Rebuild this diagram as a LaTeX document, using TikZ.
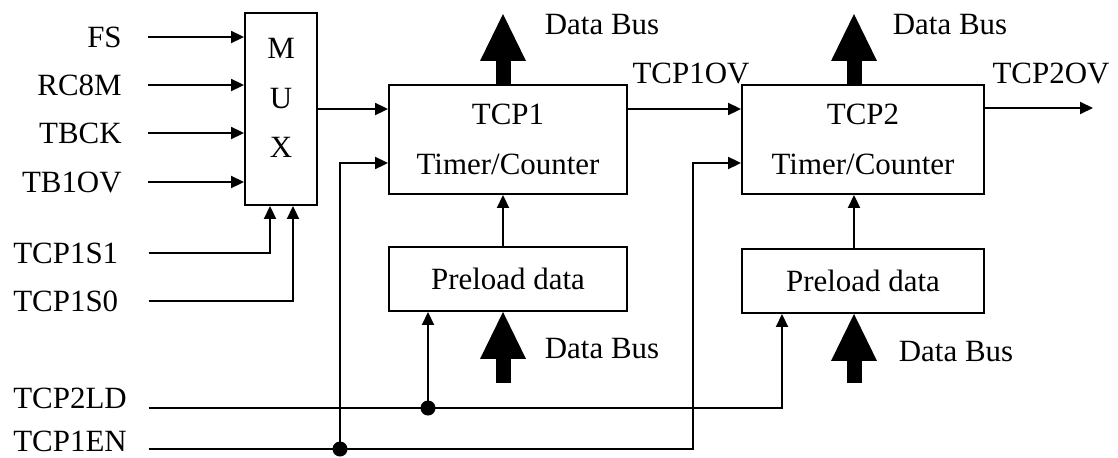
\documentclass[tikz,border=0pt]{standalone}
\usepackage{fontspec}
\setmainfont{Liberation Serif}
\usetikzlibrary{arrows.meta,calc,positioning}
\tikzset{%
	block/.style  = {draw, rectangle, line width=1.1pt, minimum height=2.18cm, text centered, align=center},
	arrow/.style  = {line width=1.1pt, -{Triangle[length=2.6mm, width=2.4mm]}},
	bus/.style    = {line width=3mm, -{Triangle[length=9.4mm, width=9.2mm, line width=0pt]}},
	sigin/.style  = {anchor=east, inner xsep=0.52cm},
	ctrlin/.style = {anchor=west, inner xsep=0pt, inner ysep=1pt, text width=2.7cm, align=left},
}

\begin{document}
\begin{tikzpicture}[x=0.02cm, y=-0.02cm, font=\fontsize{17.6}{21}\selectfont]
	\useasboundingbox (0,0) rectangle (1118,457);
	
	% blocks
	\node[block, minimum width=1.44cm, minimum height=3.84cm] (mux) at (281,109) {};
	\node[align=center] (muxtxt) at (281,98) {M\\[7pt]U\\[7pt]X};
	\node[block, minimum width=4.76cm] (tcp1) at (508,139.5) {TCP1\\[7pt]Timer/Counter};
	\node[block, minimum width=4.84cm] (tcp2) at (863,139.5) {TCP2\\[7pt]Timer/Counter};
	\node[block, minimum width=4.76cm, minimum height=1.28cm] (pre1) at (508,279) {Preload data};
	\node[block, minimum width=4.84cm, minimum height=1.28cm] (pre2) at (863,281) {Preload data};
	
	% input signals
	\node[sigin] (fs) at (148,37) {FS};
	\node[sigin] (rc) at (148,85) {RC8M};
	\node[sigin] (tbck) at (148,133) {TBCK};
	\node[sigin] (tbov) at (148,182) {TB1OV};
	\node[ctrlin] (sone) at (13,253) {TCP1S1};
	\node[ctrlin] (szero) at (13,301) {TCP1S0};
	\node[ctrlin] (ld) at (13,398) {TCP2LD};
	\node[ctrlin] (en) at (13,441) {TCP1EN};
	
	\draw[arrow] (fs.east) -- (fs.east -| mux.west);
	\draw[arrow] (rc.east) -- (rc.east -| mux.west);
	\draw[arrow] (tbck.east) -- (tbck.east -| mux.west);
	\draw[arrow] (tbov.east) -- (tbov.east -| mux.west);
	\draw[arrow] (sone.east) -| ([xshift=-0.22cm]mux.south);
	\draw[arrow] (szero.east) -| ([xshift=0.24cm]mux.south);
	
	% clock path and overflow outputs
	\coordinate (out) at (1093,108);
	\draw[arrow] (mux.east) -- (mux.east -| tcp1.west);
	\draw[arrow] (tcp1.east |- mux.east) -- (tcp2.west |- mux.east);
	\draw[arrow] (tcp2.east |- out) -- (out);
	\node (ovone) at (691,73) {TCP1OV};
	\node (ovtwo) at (1051,73) {TCP2OV};
	
	% load and enable lines
	\coordinate (ldA) at (428,408);
	\coordinate (ldB) at (782,408);
	\coordinate (enA) at (340,449);
	\coordinate (enB) at (693,449);
	\draw[arrow] (ld.east |- ldA) -| (pre2.south -| ldB);
	\draw[arrow] (ldA) -- (ldA |- pre1.south);
	\fill (ldA) circle[radius=0.15cm];
	\draw[arrow] (en.east |- enA) -- (enB) |- ([yshift=-0.47cm]tcp2.west);
	\draw[arrow] (enA) |- ([yshift=-0.47cm]tcp1.west);
	\fill (enA) circle[radius=0.15cm];
	
	% data buses
	\coordinate (busA) at (503,14);
	\coordinate (busB) at (854,14);
	\coordinate (busC) at (503,383);
	\coordinate (busD) at (854,383);
	\draw[arrow] (pre1.north -| busA) -- (tcp1.south -| busA);
	\draw[arrow] (pre2.north -| busB) -- (tcp2.south -| busB);
	\draw[bus] (tcp1.north -| busA) -- (busA);
	\draw[bus] (tcp2.north -| busB) -- (busB);
	\draw[bus] (busC) -- (busC |- pre1.south);
	\draw[bus] (busD) -- (busD |- pre2.south);
	\node (dbA) at (602,25) {Data Bus};
	\node (dbB) at (950,25) {Data Bus};
	\node (dbC) at (602,349) {Data Bus};
	\node (dbD) at (956,352) {Data Bus};
\end{tikzpicture}
\end{document}
